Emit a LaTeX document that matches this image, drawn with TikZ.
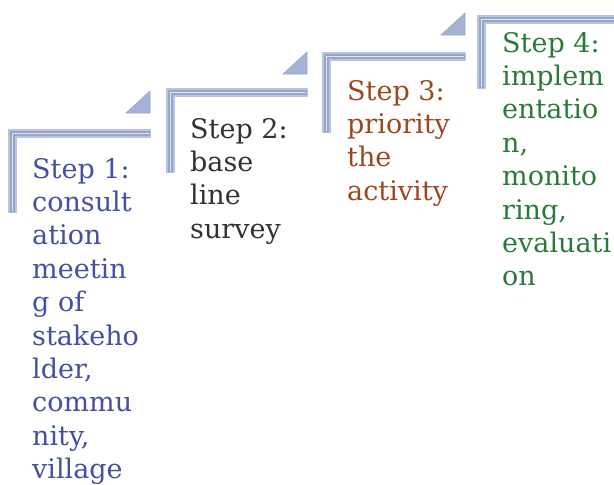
\documentclass[tikz,border=0pt]{standalone}
\usepackage{fontspec}
\newfontfamily\stepfont{DejaVu Serif}
\definecolor{barlight}{RGB}{184,197,224}
\definecolor{barmid}{RGB}{150,165,204}
\definecolor{barcore}{RGB}{222,228,242}
\definecolor{triblue}{RGB}{165,180,214}
\definecolor{txtone}{RGB}{68,80,160}
\definecolor{txttwo}{RGB}{50,50,50}
\definecolor{txtthree}{RGB}{155,72,30}
\definecolor{txtfour}{RGB}{42,122,58}
\tikzset{
  barouter/.style={draw=barlight, line width=9pt, line join=miter, line cap=butt},
  barinner/.style={draw=barmid, line width=5pt, line join=miter, line cap=butt},
  barcenter/.style={draw=barcore, line width=0.8pt, line join=miter, line cap=butt},
  tri/.style={fill=triblue, draw=barmid, line width=0.6pt},
  steptext/.style={anchor=base west, inner sep=0pt, font=\stepfont}
}
\newcommand{\stepL}[4]{% x left, y top, x right, y bottom
  \draw[barouter] (#1+4.5,#4) -- (#1+4.5,#2+4.5) -- (#3,#2+4.5);
  \draw[barinner] (#1+4.5,#4-1) -- (#1+4.5,#2+4.5) -- (#3-1,#2+4.5);
  \draw[barcenter] (#1+4.5,#4-2) -- (#1+4.5,#2+4.5) -- (#3-2,#2+4.5);
}
\newcommand{\steptri}[3]{% right x, bottom y, id
  \coordinate (#3a) at (#1-24,#2);
  \coordinate (#3b) at (#1,#2);
  \coordinate (#3c) at (#1,#2-22);
  \filldraw[tri] (#3a) -- (#3b) -- (#3c) -- cycle;
}
\newcommand{\ptxt}[1]{\parbox[t]{130pt}{\fontsize{27}{33.4}\selectfont\raggedright #1}}
\begin{document}
\begin{tikzpicture}[x=1pt,y=-1pt]
\useasboundingbox (0,0) rectangle (614,485);
% brackets
\stepL{8}{129}{151}{213}
\stepL{166}{88}{308}{173}
\stepL{322}{52}{466}{133}
\stepL{477}{15}{624}{89}
% triangles
\steptri{150}{113}{ta}
\steptri{307}{74}{tb}
\steptri{465}{35}{tc}
% texts
\node[steptext, text=txtone] (s1) at (32,178) {\ptxt{Step 1:\\consult\\ation\\meetin\\g of\\stakeho\\lder,\\commu\\nity,\\village}};
\node[steptext, text=txttwo] (s2) at (190,138) {\ptxt{Step 2:\\base\\line\\survey}};
\node[steptext, text=txtthree] (s3) at (347,100) {\ptxt{Step 3:\\priority\\the\\activity}};
\node[steptext, text=txtfour] (s4) at (502,52) {\ptxt{Step 4:\\implem\\entatio\\n,\\monito\\ring,\\evaluati\\on}};
\end{tikzpicture}
\end{document}
